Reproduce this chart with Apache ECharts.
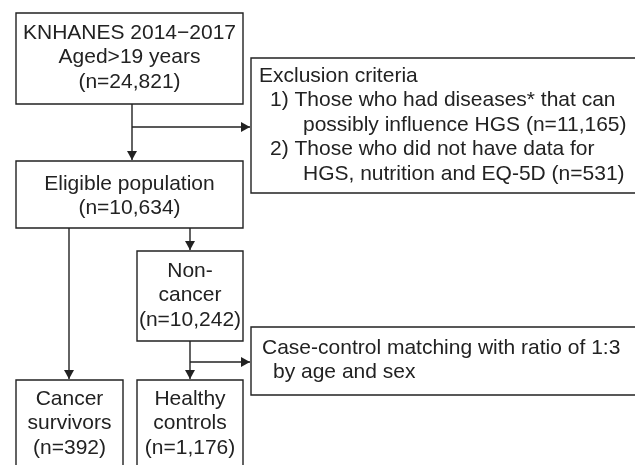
<!DOCTYPE html>
<html><head><meta charset="utf-8">
<script src="https://cdn.jsdelivr.net/npm/echarts@6/dist/echarts.min.js"></script>
<style>html,body{margin:0;padding:0;background:#fff}#c{width:635px;height:465px}</style>
</head><body><div id="c"></div>
<script>
// ---- flowchart content (texts) ----
const startLines = ['KNHANES 2014\u22122017', 'Aged>19 years', '(n=24,821)'];
const exclusionLines = ['Exclusion criteria', '1) Those who had diseases* that can', 'possibly influence HGS (n=11,165)', '2) Those who did not have data for', 'HGS, nutrition and EQ-5D (n=531)'];
const eligibleLines = ['Eligible population', '(n=10,634)'];
const nonCancerLines = ['Non-', 'cancer', '(n=10,242)'];
const matchingLines = ['Case-control matching with ratio of 1:3', 'by age and sex'];
const cancerLines = ['Cancer', 'survivors', '(n=392)'];
const controlLines = ['Healthy', 'controls', '(n=1,176)'];

// ---- layout ----
const INK = '#222';
const FONT = '21px "Liberation Sans", Arial, sans-serif';
const LW = 1.4;
const LH = 24.5;

const els = [];
function box(x, y, w, h) {
  els.push({type:'rect', shape:{x:x, y:y, width:w, height:h}, style:{fill:'#fff', stroke:INK, lineWidth:LW}, z:1});
}
function centerText(lines, cx, y0) {
  lines.forEach((t, i) => els.push({type:'text', x:cx, y:y0 + i*LH, style:{text:t, font:FONT, fill:INK, align:'center', verticalAlign:'middle'}, z:2}));
}
function leftText(lines, xs, y0) {
  lines.forEach((t, i) => els.push({type:'text', x:xs[i], y:y0 + i*LH, style:{text:t, font:FONT, fill:INK, align:'left', verticalAlign:'middle'}, z:2}));
}
function line(pts) {
  els.push({type:'polyline', shape:{points:pts}, style:{stroke:INK, lineWidth:LW, fill:null}, z:0});
}
function arrowDown(x, y) {
  els.push({type:'polygon', shape:{points:[[x-5, y-9],[x+5, y-9],[x, y]]}, style:{fill:INK}, z:3});
}
function arrowRight(x, y) {
  els.push({type:'polygon', shape:{points:[[x-9, y-5],[x-9, y+5],[x, y]]}, style:{fill:INK}, z:3});
}

// boxes
box(16, 13, 227, 91);
box(251, 58, 400, 135);
box(16, 161, 227, 67);
box(137, 251, 106, 90);
box(251, 327, 400, 68);
box(16, 380, 107, 100);
box(137, 380, 106, 100);

// connectors
line([[132,104],[132,160]]); arrowDown(132,160);
line([[132,127],[250,127]]); arrowRight(250,127);
line([[69,228],[69,379]]); arrowDown(69,379);
line([[190,228],[190,250]]); arrowDown(190,250);
line([[190,341],[190,379]]); arrowDown(190,379);
line([[190,362],[250,362]]); arrowRight(250,362);

// texts
centerText(startLines, 129.5, 33);
leftText(exclusionLines, [259, 270, 303, 270, 303], 76);
centerText(eligibleLines, 129.5, 184);
centerText(nonCancerLines, 190, 271);
leftText(matchingLines, [262, 273], 348);
centerText(cancerLines, 69.5, 399);
centerText(controlLines, 190, 399);

const chart = echarts.init(document.getElementById('c'), null, {renderer:'canvas'});
chart.setOption({backgroundColor:'#fff', animation:false, graphic:{elements:els}});
</script></body></html>
